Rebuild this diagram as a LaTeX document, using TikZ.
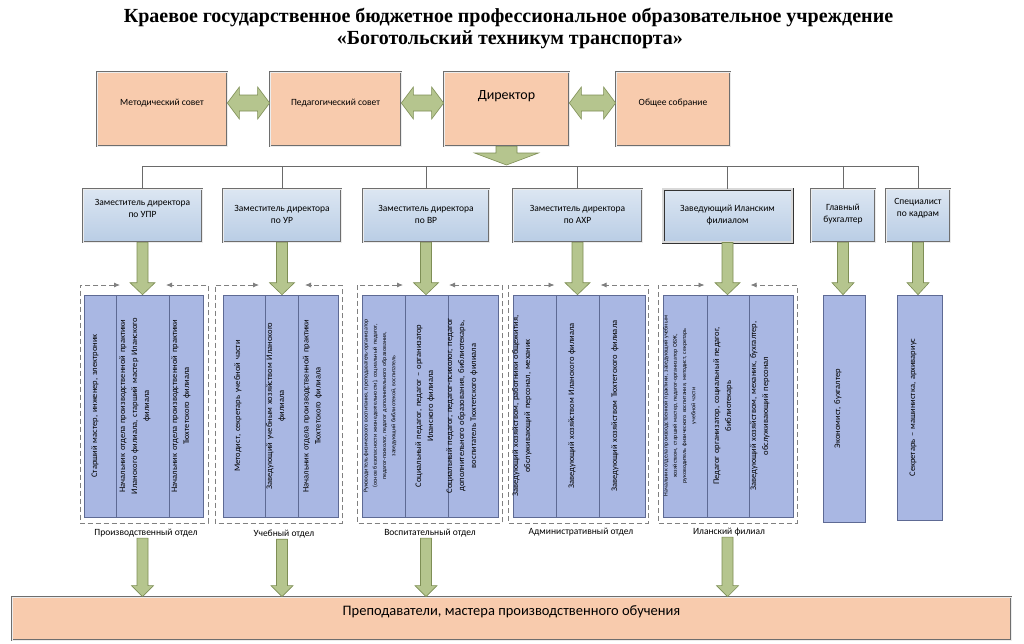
\documentclass[tikz,border=0pt]{standalone}
\usepackage{fontspec}
\setmainfont{Carlito}
\newfontfamily\titlefont{Liberation Serif}
\usetikzlibrary{calc,arrows.meta}
\definecolor{boxgray}{HTML}{6E6E6E}
\definecolor{peach}{HTML}{F8CBAD}
\definecolor{blueT}{HTML}{DCE6F2}
\definecolor{blueB}{HTML}{B9CDE5}
\definecolor{colfill}{HTML}{A9B7E3}
\definecolor{colborder}{HTML}{5E6A94}
\definecolor{greenF}{HTML}{B5C58E}
\definecolor{greenD}{HTML}{7E8E55}
\definecolor{dashgray}{HTML}{808080}
\definecolor{busgray}{HTML}{6A6A6A}
\newcommand{\colfont}{\fontsize{8.5}{12}\selectfont}
\newcommand{\tinycolfont}{\fontsize{5.9}{9.3}\selectfont}
\newcommand{\gdown}[5]{%
  \draw[garrow] let \p1=(#1), \p2=(#2) in
  (\x1-#3pt,\y1) -- (\x1-#3pt,\y2+#5pt) -- (\x1-#4pt,\y2+#5pt) -- (\x1,\y2)
  -- (\x1+#4pt,\y2+#5pt) -- (\x1+#3pt,\y2+#5pt) -- (\x1+#3pt,\y1) -- cycle;}
\newcommand{\gdouble}[2]{%
  \draw[garrow] let \p1=(#1.east), \p2=(#2.west) in
  (\x1,\y1+6pt) -- (\x1+12pt,\y1+22pt) -- (\x1+12pt,\y1+14pt) -- (\x2-12pt,\y1+14pt)
  -- (\x2-12pt,\y1+22pt) -- (\x2,\y1+6pt) -- (\x2-12pt,\y1-10pt) -- (\x2-12pt,\y1-2pt)
  -- (\x1+12pt,\y1-2pt) -- (\x1+12pt,\y1-10pt) -- cycle;}
\newcommand{\gframe}[3]{%
  \draw[gdash] ({#3-23},285) -- (#1,285) -- (#1,523) -- (#2,523) -- (#2,285) -- ({#3+23},285);}
\newcommand{\colbox}[8]{%
  \pgfmathsetmacro\mycolw{#5-#4-6}%
  \node[colrect, minimum width={(#3-#2)*1pt}, minimum height={(#5-#4)*1pt}] (#1) at ({(#2+#3)/2},{(#4+#5)/2}) {};
  \node[coltext, font=#7, text width=\mycolw pt] at (#6,{(#4+#5)/2}) {#8};}
\tikzset{
  peachbox/.style={draw=boxgray, double=white!85!gray, double distance=1pt, line width=0.7pt, fill=peach, inner sep=0pt},
  bluebox/.style={draw=boxgray, double=white!85!gray, double distance=1pt, line width=0.7pt, top color=blueT, bottom color=blueB, inner sep=0pt},
  darkbluebox/.style={draw=black!80, double=white!70!gray, double distance=1.2pt, line width=0.9pt, top color=blueT, bottom color=blueB, inner sep=0pt},
  colrect/.style={draw=colborder, line width=0.6pt, fill=colfill, inner sep=0pt},
  coltext/.style={rotate=90, align=center, inner sep=0pt},
  garrow/.style={draw=greenD, line width=0.6pt, fill=greenF},
  gdash/.style={draw=dashgray, dash pattern=on 5pt off 3pt, line width=0.8pt, arrows={Latex[length=6pt,width=5pt]-Latex[length=6pt,width=5pt]}},
  busline/.style={draw=busgray, line width=0.8pt},
  toptext/.style={font=\fontsize{9.5}{11}\selectfont, align=center},
  midtext/.style={font=\fontsize{9.5}{12}\selectfont, align=center},
  labtext/.style={font=\fontsize{9.5}{11}\selectfont, inner sep=1pt},
}
\begin{document}
\begin{tikzpicture}[x=1pt,y=-1pt]
\useasboundingbox[fill=white] (0,0) rectangle (1024,643);
% title
\node[font=\titlefont\bfseries\fontsize{20}{22}\selectfont] (t1) at (508.5,17) {Краевое государственное бюджетное профессиональное образовательное учреждение};
\node[font=\titlefont\bfseries\fontsize{20}{22}\selectfont] (t2) at (510,40) {«Боготольский техникум транспорта»};
% top row
\node[peachbox, minimum width=130pt, minimum height=74pt] (met) at (162,109) {};
\node[peachbox, minimum width=131pt, minimum height=74pt] (ped) at (335.5,109) {};
\node[peachbox, minimum width=125pt, minimum height=74pt] (dir) at (506.5,109) {};
\node[peachbox, minimum width=114pt, minimum height=74pt] (obs) at (673,109) {};
\node[toptext] (metT) at ([yshift=6pt]met.center) {Методический совет};
\node[toptext] (pedT) at ([yshift=6pt]ped.center) {Педагогический совет};
\node[font=\fontsize{14}{16}\selectfont] (dirT) at ([yshift=13pt]dir.center) {Директор};
\node[toptext] (obsT) at ([yshift=6pt]obs.center) {Общее собрание};
\gdouble{met}{ped}
\gdouble{ped}{dir}
\gdouble{dir}{obs}
% second row
\node[bluebox, minimum width=119pt, minimum height=53pt] (upr) at (142.5,215.5) {};
\node[bluebox, minimum width=118pt, minimum height=53pt] (ur) at (282,215.5) {};
\node[bluebox, minimum width=126pt, minimum height=53pt] (vr) at (426,215.5) {};
\node[bluebox, minimum width=129pt, minimum height=53pt] (ahr) at (577.5,215.5) {};
\node[darkbluebox, minimum width=129pt, minimum height=53pt] (ilan) at (727.5,215.5) {};
\node[bluebox, minimum width=64pt, minimum height=53pt] (buh) at (843,215.5) {};
\node[bluebox, minimum width=64pt, minimum height=53pt] (kadr) at (918,215.5) {};
\node[midtext] (uprT) at ([yshift=7.5pt]upr.center) {Заместитель директора\\по УПР};
\node[midtext] (urT) at ([yshift=1.5pt]ur.center) {Заместитель директора\\по УР};
\node[midtext] (vrT) at ([yshift=1.5pt]vr.center) {Заместитель директора\\по ВР};
\node[midtext] (ahrT) at ([yshift=1.5pt]ahr.center) {Заместитель директора\\по АХР};
\node[midtext] (ilanT) at (ilan.center) {Заведующий Иланским\\филиалом};
\node[midtext] (buhT) at ([yshift=1.5pt]buh.center) {Главный\\бухгалтер};
\node[midtext] (kadrT) at ([yshift=7.5pt]kadr.center) {Специалист\\по кадрам};
% bus
\coordinate (bus) at (507,166);
\coordinate (dirtip) at (507,165);
\draw[busline] (upr.north |- bus) -- (kadr.north |- bus);
\foreach \n in {upr,ur,vr,ahr,ilan,buh,kadr} {\draw[busline] (\n.north) -- (\n.north |- bus);}
\gdown{dir.south}{dirtip}{10.5}{32}{12}
% group frames
\gframe{80}{208}{143}
\gframe{215}{342}{282}
\gframe{357}{502}{426}
\gframe{508}{648}{577.5}
\gframe{658}{797}{727.5}
% columns group 1
\colbox{c11}{84}{116}{295}{517}{95}{\colfont}{Старший мастер, инженер, электроник}
\colbox{c12}{116}{169}{295}{517}{135}{\colfont}{Начальник отдела производственной практики\\Иланского филиала, старший мастер Иланского\\филиала}
\colbox{c13}{169}{203}{295}{517}{181}{\colfont}{Начальник отдела производственной практики\\Тюхтетского филиала}
% group 2
\colbox{c21}{223}{265}{295}{517}{238}{\colfont}{Методист, секретарь учебной части}
\colbox{c22}{265}{298}{295}{517}{276}{\colfont}{Заведующий учебным хозяйством Иланского\\филиала}
\colbox{c23}{298}{338}{295}{517}{312.5}{\colfont}{Начальник отдела производственной практики\\Тюхтетского филиала}
% group 3
\colbox{c31}{362}{405}{295}{517}{380}{\tinycolfont}{Руководитель физического воспитания, преподаватель-организатор\\(основ безопасности жизнедеятельности), социальный педагог,\\педагог-психолог, педагог дополнительного образования,\\заведующий библиотекой, воспитатель}
\colbox{c32}{405}{448}{295}{517}{425}{\colfont}{Социальный педагог, педагог – организатор\\Иланского филиала}
\colbox{c33}{448}{498}{295}{517}{462}{\colfont}{Социальный педагог, педагог-психолог, педагог\\дополнительного образования, библиотекарь,\\воспитатель Тюхтетского филиала}
% group 4
\colbox{c41}{513}{556}{295}{517}{522}{\colfont}{Заведующий хозяйством, работники общежития,\\обслуживающий персонал, механик}
\colbox{c42}{556}{599}{295}{517}{572}{\colfont}{Заведующий хозяйством Иланского филиала}
\colbox{c43}{599}{645}{295}{517}{615}{\colfont}{Заведующий хозяйством Тюхтетского филиала}
% group 5
\colbox{c51}{663}{707}{295}{517}{680}{\tinycolfont}{Начальник отдела производственной практики, заведующий учебным\\хозяйством, старший мастер, педагог-организатор ОБЖ,\\руководитель физического воспитания, методист, секретарь\\учебной части}
\colbox{c52}{707}{749}{295}{517}{723}{\colfont}{Педагог организатор, социальный педагог,\\библиотекарь}
\colbox{c53}{749}{793}{295}{517}{760}{\colfont}{Заведующий хозяйством, механик, бухгалтер,\\обслуживающий персонал}
% group 6
\colbox{c61}{823}{865}{295}{522}{838}{\colfont}{Экономист, бухгалтер}
\colbox{c62}{897}{942}{295}{520}{913}{\colfont}{Секретарь – машинистка, архивариус}
% arrows to columns
\gdown{upr.south}{c12.north}{5.5}{12.5}{12}
\gdown{ur.south}{c22.north}{5.5}{12.5}{12}
\gdown{vr.south}{c32.north}{5.5}{12.5}{12}
\gdown{ahr.south}{c42.north}{5.5}{12.5}{12}
\gdown{ilan.south}{c52.north}{5.5}{12.5}{12}
\gdown{buh.south}{c61.north}{5.5}{11}{12}
\gdown{kadr.south}{c62.north}{5.5}{11}{12}
% labels
\node[labtext] (lab1) at (146,533) {Производственный отдел};
\node[labtext] (lab2) at (284,534) {Учебный отдел};
\node[labtext] (lab3) at (430,533) {Воспитательный отдел};
\node[labtext] (lab4) at (581,532) {Административный отдел};
\node[labtext] (lab5) at (729,532) {Иланский филиал};
% bottom bar
\node[peachbox, minimum width=999pt, minimum height=43pt] (bar) at (511.5,618.5) {};
\node[font=\fontsize{14.5}{16}\selectfont] (barT) at ([yshift=7pt]bar.center) {Преподаватели, мастера производственного обучения};
\coordinate (s1) at (upr.south |- lab1.south);
\coordinate (s2) at (ur.south |- lab2.south);
\coordinate (s3) at (vr.south |- lab3.south);
\coordinate (s5) at (ilan.south |- lab5.south);
\gdown{s1}{bar.north}{5.5}{11}{11}
\gdown{s2}{bar.north}{5.5}{11}{11}
\gdown{s3}{bar.north}{5.5}{11}{11}
\gdown{s5}{bar.north}{5.5}{11}{11}
\end{tikzpicture}
\end{document}
